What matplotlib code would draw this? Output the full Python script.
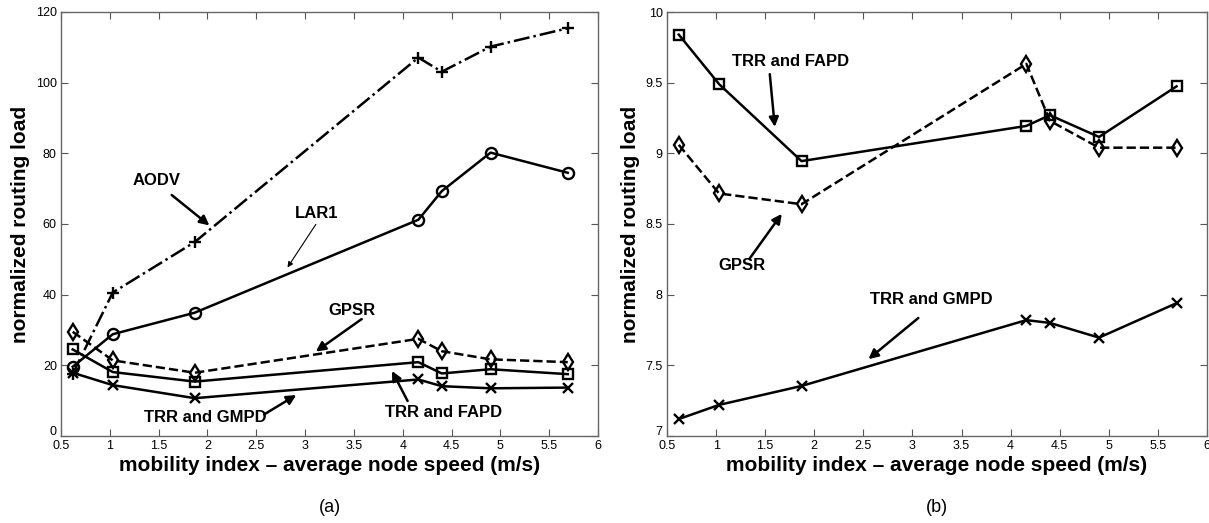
import matplotlib
matplotlib.use("Agg")
import matplotlib.pyplot as plt
from matplotlib.transforms import ScaledTranslation

plt.rcParams['font.family'] = ['Liberation Sans', 'DejaVu Sans']

speed = [0.62, 1.03, 1.87, 4.16, 4.40, 4.90, 5.69]

# panel (a)
aodv = [17.6, 40.6, 54.9, 107.1, 103.1, 110.2, 115.4]
lar1 = [19.6, 28.8, 34.9, 61.2, 69.3, 80.2, 74.5]
gpsr_a = [29.5, 21.4, 17.9, 27.5, 24.0, 21.7, 20.9]
fapd_a = [24.5, 18.1, 15.4, 20.9, 17.7, 18.9, 17.5]
gmpd_a = [17.9, 14.4, 10.7, 16.0, 14.1, 13.5, 13.7]

# panel (b)
fapd_b = [9.84, 9.49, 8.945, 9.194, 9.27, 9.116, 9.474]
gpsr_b = [9.06, 8.716, 8.64, 9.633, 9.23, 9.04, 9.04]
gmpd_b = [7.12, 7.22, 7.354, 7.82, 7.80, 7.696, 7.94]

xticks = [0.5, 1, 1.5, 2, 2.5, 3, 3.5, 4, 4.5, 5, 5.5, 6]
xticklabels = ['0.5', '1', '1.5', '2', '2.5', '3', '3.5', '4', '4.5', '5', '5.5', '6']
yticks_a = [0, 20, 40, 60, 80, 100, 120]
yticks_b = [7, 7.5, 8, 8.5, 9, 9.5, 10]
yticklabels_b = ['7', '7.5', '8', '8.5', '9', '9.5', '10']

xlabel = 'mobility index \u2013 average node speed (m/s)'
ylabel = 'normalized routing load'

fig = plt.figure(figsize=(12.09, 5.23), dpi=100)
axA = fig.add_axes([61/1209, 1-436/523, (598-61)/1209, (436-12)/523])
axB = fig.add_axes([667/1209, 1-436/523, (1207-667)/1209, (436-12)/523])

lw = 1.8
mk = dict(color='black', markerfacecolor='none', markeredgecolor='black', markeredgewidth=1.7, lw=lw)

axA.plot(speed, aodv, linestyle='-.', marker='+', markersize=9, **mk)
axA.plot(speed, lar1, linestyle='-', marker='o', markersize=8, **mk)
axA.plot(speed, gpsr_a, linestyle='--', marker='d', markersize=8.5, **mk)
axA.plot(speed, fapd_a, linestyle='-', marker='s', markersize=7, **mk)
axA.plot(speed, gmpd_a, linestyle='-', marker='x', markersize=6.5, **mk)

axB.plot(speed, fapd_b, linestyle='-', marker='s', markersize=7, **mk)
axB.plot(speed, gpsr_b, linestyle='--', marker='d', markersize=8.5, **mk)
axB.plot(speed, gmpd_b, linestyle='-', marker='x', markersize=6.5, **mk)

for ax in (axA, axB):
    ax.set_xlim(0.5, 6)
    ax.set_xticks(xticks)
    ax.set_xticklabels(xticklabels)
    ax.tick_params(direction='in', top=True, right=True, length=5, width=0.8,
                   labelsize=9, colors='#555555', labelcolor='black', pad=3)
    for s in ax.spines.values():
        s.set_color('#666666')
        s.set_linewidth(1.0)
    ax.set_xlabel(xlabel, fontsize=15, fontweight='bold', labelpad=3)
    ax.set_ylabel(ylabel, fontsize=15, fontweight='bold', labelpad=4)

axA.set_ylim(0, 120)
axA.set_yticks(yticks_a)
axB.set_ylim(7, 10)
axB.set_yticks(yticks_b)
axB.set_yticklabels(yticklabels_b)

# lift the bottom y tick label a little so it clears the x tick labels
for ax in (axA, axB):
    lab = ax.get_yticklabels()[0]
    lab.set_transform(lab.get_transform() + ScaledTranslation(0, 4/72, fig.dpi_scale_trans))

thick = dict(arrowstyle='-|>', color='black', lw=1.8, mutation_scale=14, shrinkA=0, shrinkB=0)
thin = dict(arrowstyle='-|>', color='black', lw=0.8, mutation_scale=8, shrinkA=0, shrinkB=0)
tfont = dict(fontsize=12, fontweight='bold', ha='center', va='center')

def ann(ax, label, txy, tail, head, props):
    ax.text(txy[0], txy[1], label, **tfont)
    ax.annotate('', xy=head, xytext=tail, arrowprops=props)

ann(axA, 'AODV', (1.48, 72.3), (1.634, 68.2), (2.02, 59.6), thick)
ann(axA, 'LAR1', (3.12, 63.0), (3.11, 59.9), (2.82, 47.7), thin)
ann(axA, 'GPSR', (3.48, 35.5), (3.58, 33.1), (3.11, 23.9), thick)
ann(axA, 'TRR and GMPD', (1.98, 5.2), (2.58, 6.1), (2.91, 11.6), thick)
ann(axA, 'TRR and FAPD', (4.42, 6.6), (4.05, 9.9), (3.89, 18.4), thick)

ann(axB, 'TRR and FAPD', (1.757, 9.648), (1.547, 9.56), (1.598, 9.187), thick)
ann(axB, 'GPSR', (1.26, 8.206), (1.339, 8.253), (1.669, 8.572), thick)
ann(axB, 'TRR and GMPD', (3.197, 7.969), (3.06, 7.835), (2.552, 7.544), thick)

fig.text((61+598)/2/1209, 1-508/523, '(a)', fontsize=13, ha='center', va='center')
fig.text((667+1207)/2/1209, 1-508/523, '(b)', fontsize=13, ha='center', va='center')

fig.savefig('out.png', dpi=100)
